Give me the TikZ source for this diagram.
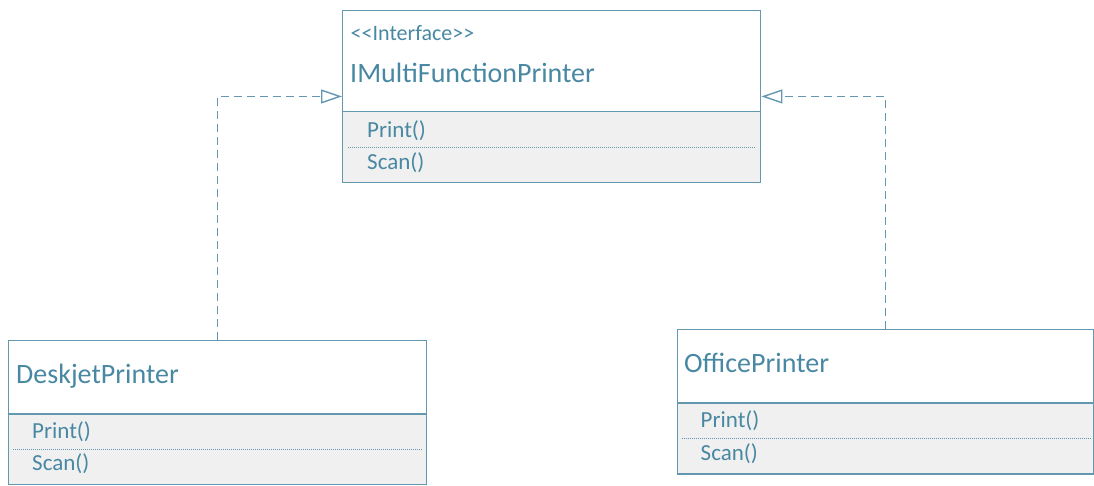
\documentclass[tikz,border=0pt]{standalone}
\usepackage{fontspec}
\setmainfont{Carlito}
\usetikzlibrary{arrows.meta}
\definecolor{umlline}{RGB}{100,152,176}
\definecolor{umltext}{RGB}{72,136,162}
\definecolor{umlfill}{RGB}{240,240,240}
\begin{document}
\begin{tikzpicture}[x=1pt,y=-1pt,
 classbox/.style={draw=umlline, line width=1.4pt, inner sep=0pt, anchor=north west},
 opsbox/.style={draw=umlline, fill=umlfill, line width=1.4pt, inner sep=0pt, anchor=north west},
 classtitle/.style={text=umltext, font=\fontsize{28}{30}\selectfont, anchor=base west, inner sep=0pt},
 stereo/.style={text=umltext, font=\fontsize{22}{24}\selectfont, anchor=base west, inner sep=0pt},
 optext/.style={text=umltext, font=\fontsize{23}{25}\selectfont, anchor=base west, inner sep=0pt},
 sepline/.style={draw=umlline, line width=0.8pt, dash pattern=on 1pt off 1pt},
 realize/.style={draw=umlline, line width=1.4pt, dash pattern=on 8pt off 5pt, -{Triangle[open, length=21pt, width=14pt]}}]
\useasboundingbox (0,0) rectangle (1094,485);

% Interface
\node[classbox, minimum width=418pt, minimum height=171.5pt] (iface) at (342,10) {};
\node[opsbox, minimum width=418pt, minimum height=70.5pt] (ifaceops) at (342,111) {};
\node[stereo] (ifacestereo) at (350.5,40.5) {<\kern0pt<Interface>\kern0pt>};
\node[classtitle] (ifacename) at (350,82.5) {IMultiFunctionPrinter};
\node[optext] (ifaceprint) at (367,137) {Print()};
\node[optext] (ifacescan) at (367,169.5) {Scan()};
\draw[sepline] ([xshift=6pt]ifaceops.west) -- ([xshift=-6pt]ifaceops.east);

% DeskjetPrinter
\node[classbox, minimum width=417.5pt, minimum height=144pt] (desk) at (8,340) {};
\node[opsbox, minimum width=417.5pt, minimum height=70.7pt] (deskops) at (8,413.3) {};
\node[classtitle] (deskname) at (16,383.3) {DeskjetPrinter};
\node[optext] (deskprint) at (32,438.3) {Print()};
\node[optext] (deskscan) at (32,470.5) {Scan()};
\draw[sepline] ([xshift=5pt]deskops.west) -- ([xshift=-5pt]deskops.east);

% OfficePrinter
\node[classbox, minimum width=416.8pt, minimum height=144.3pt] (office) at (676.5,329) {};
\node[opsbox, minimum width=416.8pt, minimum height=71pt] (officeops) at (676.5,402.3) {};
\node[classtitle] (officename) at (684,372.3) {OfficePrinter};
\node[optext] (officeprint) at (700.5,427.3) {Print()};
\node[optext] (officescan) at (700.5,460) {Scan()};
\draw[sepline] ([xshift=5pt]officeops.west) -- ([xshift=-5pt]officeops.east);

% Realizations
\draw[realize] (desk.north) |- (iface.west);
\draw[realize] (office.north) |- (iface.east);
\end{tikzpicture}
\end{document}
